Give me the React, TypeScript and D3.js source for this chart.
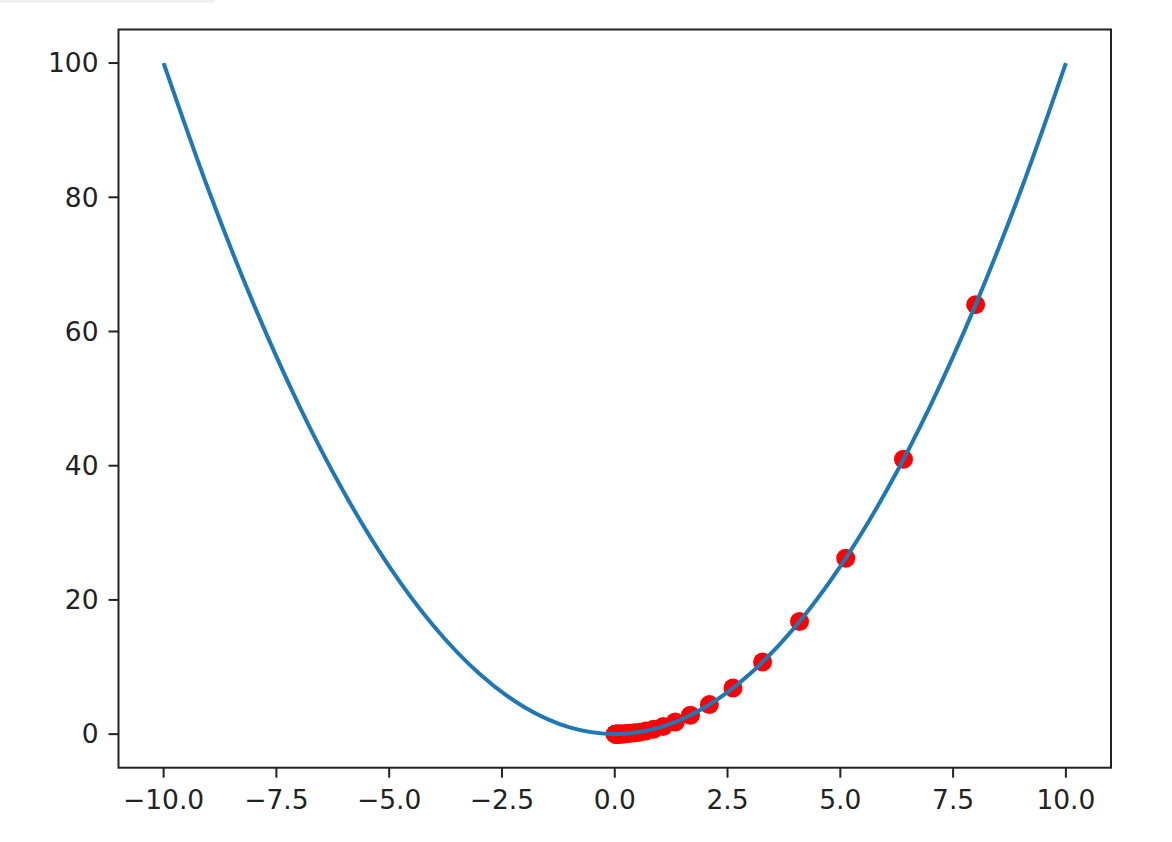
import * as d3 from "d3";

// parabola samples (x, y)
const curveX = [-10, -9, -8, -7, -6, -5, -4, -3, -2, -1, 0, 1, 2, 3, 4, 5, 6, 7, 8, 9, 10];
const curveY = [100, 81, 64, 49, 36, 25, 16, 9, 4, 1, 0, 1, 4, 9, 16, 25, 36, 49, 64, 81, 100];

// red descent points
const stepX = [
  8.0, 6.4, 5.12, 4.096, 3.277, 2.621, 2.097, 1.678, 1.342, 1.074, 0.859, 0.687, 0.55, 0.44,
  0.352, 0.281, 0.225, 0.18, 0.144, 0.115, 0.092, 0.074, 0.059, 0.047, 0.038, 0.03, 0.024,
  0.019, 0.015, 0.012,
];
const stepY = [
  64.0, 40.96, 26.21, 16.78, 10.74, 6.87, 4.4, 2.81, 1.8, 1.15, 0.74, 0.47, 0.3, 0.19, 0.12,
  0.08, 0.05, 0.03, 0.02, 0.01, 0.01, 0.005, 0.003, 0.002, 0.001, 0.001, 0.0006, 0.0004,
  0.0002, 0.0001,
];

const xTicks = [-10, -7.5, -5, -2.5, 0, 2.5, 5, 7.5, 10];
const yTicks = [0, 20, 40, 60, 80, 100];

export default function App() {
  const width = 1172;
  const height = 842;
  const left = 118.5;
  const right = 1111;
  const top = 29.5;
  const bottom = 767.7;
  const font = "'DejaVu Sans', sans-serif";
  const fontSize = 26.5;
  const textColor = "#222";

  const x = d3.scaleLinear().domain([-11, 11]).range([left, right]);
  const y = d3.scaleLinear().domain([-5, 105]).range([bottom, top]);

  const line = d3
    .line<number>()
    .x((d) => x(d))
    .y((_, i) => y(curveY[i]))
    .curve(d3.curveCardinal.tension(0));

  return (
    <div style={{ position: "fixed", left: 0, top: 0, background: "#fff" }}>
      <svg width={width} height={height} style={{ display: "block" }}>
        <rect x={0} y={0} width={width} height={height} fill="#fff" />
        <rect x={0} y={0} width={215} height={2.5} fill="#eeeeee" />

        {stepX.map((d, i) => (
          <circle key={i} cx={x(d)} cy={y(stepY[i])} r={9.5} fill="#ff0000" />
        ))}

        <path d={line(curveX) ?? ""} fill="none" stroke="#1f77b4" strokeWidth={4} />

        <rect
          x={left}
          y={top}
          width={right - left}
          height={bottom - top}
          fill="none"
          stroke="#222"
          strokeWidth={2}
        />

        {xTicks.map((t) => (
          <g key={t} transform={`translate(${x(t)},${bottom})`}>
            <line y1={0} y2={10} stroke="#222" strokeWidth={2} />
            <text
              y={41}
              textAnchor="middle"
              fontFamily={font}
              fontSize={fontSize}
              fill={textColor}
            >
              {d3.format(".1f")(t).replace("-", "\u2212")}
            </text>
          </g>
        ))}

        {yTicks.map((t) => (
          <g key={t} transform={`translate(${left},${y(t)})`}>
            <line x1={0} x2={-10} stroke="#222" strokeWidth={2} />
            <text
              x={-20}
              dy="0.35em"
              textAnchor="end"
              fontFamily={font}
              fontSize={fontSize}
              fill={textColor}
            >
              {t}
            </text>
          </g>
        ))}
      </svg>
    </div>
  );
}
